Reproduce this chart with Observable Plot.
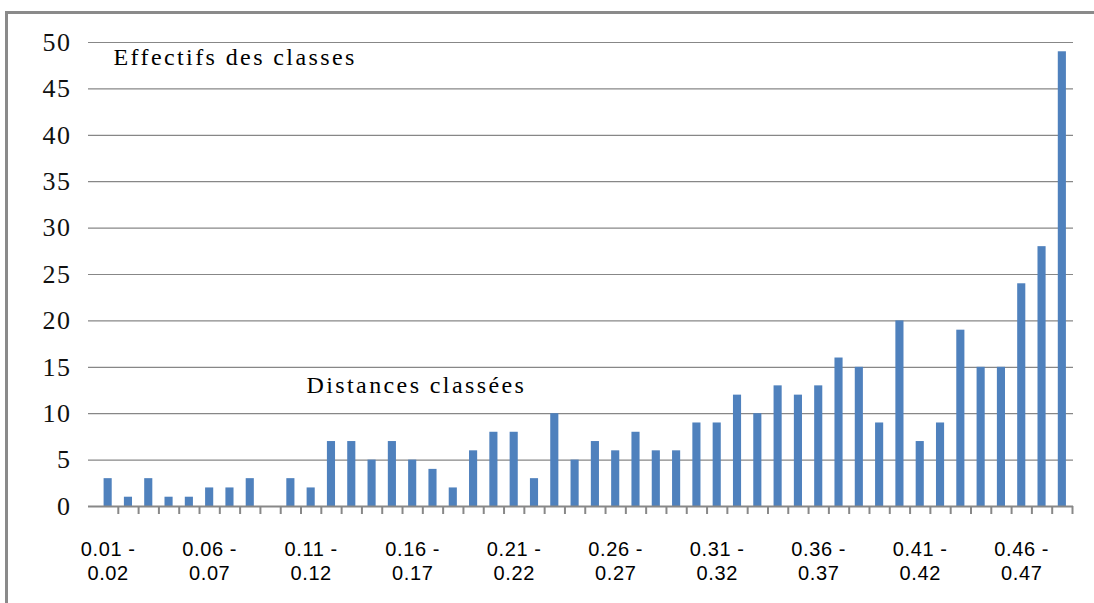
<!DOCTYPE html>
<html>
<head>
<meta charset="utf-8">
<script src="https://cdn.jsdelivr.net/npm/d3@7"></script>
<script src="https://cdn.jsdelivr.net/npm/@observablehq/plot@0.6"></script>
<style>
  html, body { margin: 0; padding: 0; background: white; overflow: hidden; }
  #wrap { position: relative; width: 1094px; height: 603px; }
  #wrap svg { position: absolute; left: 0; top: 0; }
  #border { position: absolute; left: 5px; top: 11px; width: 1300px; height: 900px;
            border: 3px solid #8a8a8a; pointer-events: none; z-index: 2; }
</style>
</head>
<body>
<div id="wrap"><div id="border"></div></div>
<script>
// Classes (distance intervals)
const categories = [
  "0.01 - 0.02","0.02 - 0.03","0.03 - 0.04","0.04 - 0.05","0.05 - 0.06",
  "0.06 - 0.07","0.07 - 0.08","0.08 - 0.09","0.09 - 0.10","0.10 - 0.11",
  "0.11 - 0.12","0.12 - 0.13","0.13 - 0.14","0.14 - 0.15","0.15 - 0.16",
  "0.16 - 0.17","0.17 - 0.18","0.18 - 0.19","0.19 - 0.20","0.20 - 0.21",
  "0.21 - 0.22","0.22 - 0.23","0.23 - 0.24","0.24 - 0.25","0.25 - 0.26",
  "0.26 - 0.27","0.27 - 0.28","0.28 - 0.29","0.29 - 0.30","0.30 - 0.31",
  "0.31 - 0.32","0.32 - 0.33","0.33 - 0.34","0.34 - 0.35","0.35 - 0.36",
  "0.36 - 0.37","0.37 - 0.38","0.38 - 0.39","0.39 - 0.40","0.40 - 0.41",
  "0.41 - 0.42","0.42 - 0.43","0.43 - 0.44","0.44 - 0.45","0.45 - 0.46",
  "0.46 - 0.47","0.47 - 0.48","0.48 - 0.49"
];
// Effectifs (counts)
const counts = [
  3, 1, 3, 1, 1,
  2, 2, 3, 0, 3,
  2, 7, 7, 5, 7,
  5, 4, 2, 6, 8,
  8, 3, 10, 5, 7,
  6, 8, 6, 6, 9,
  9, 12, 10, 13, 12,
  13, 16, 15, 9, 20,
  7, 9, 19, 15, 15,
  24, 28, 49
];
// Tick labels shown on the x axis
const xTickLabels = ["0.01 - 0.02","0.06 - 0.07","0.11 - 0.12","0.16 - 0.17","0.21 - 0.22",
                     "0.26 - 0.27","0.31 - 0.32","0.36 - 0.37","0.41 - 0.42","0.46 - 0.47"];
const yTicks = [0, 5, 10, 15, 20, 25, 30, 35, 40, 45, 50];
const yTitle = "Effectifs des classes";
const xTitle = "Distances classées";

const data = categories.map((c, i) => ({cls: c, n: counts[i]}));

const W = 1094, H = 603;
const xRange = [97.5, 1072];
const step = (xRange[1] - xRange[0]) / categories.length;
const serif = "'Liberation Serif', 'Times New Roman', serif";
const sans = "'Liberation Sans', Arial, sans-serif";

const chart = Plot.plot({
  width: W,
  height: H,
  marginLeft: 88,
  marginRight: 21,
  marginTop: 42,
  marginBottom: 97,
  style: {fontFamily: serif, color: "#000", background: "white"},
  x: {type: "band", domain: categories, range: xRange, round: false, paddingInner: 0.6, paddingOuter: 0.3, align: 0.5, axis: null, label: null},
  y: {domain: [0, 50], axis: null, label: null},
  marks: [
    Plot.ruleY(yTicks.filter(d => d > 0), {stroke: "#878787", strokeWidth: 1.2}),
    Plot.barY(data, {x: "cls", y: "n", fill: "#4f81bd"}),
    Plot.ruleY([0], {stroke: "#888888", strokeWidth: 2.2}),
    Plot.axisX({ticks: categories, tickSize: 8, dx: step / 2, stroke: "#888888", strokeWidth: 2, tickFormat: () => "", label: null}),
    // y tick labels (text mark on the y scale)
    Plot.text(yTicks, {y: d => d, text: d => String(d), frameAnchor: "left", textAnchor: "end",
      lineAnchor: "middle", dx: -17, fontSize: 26, fontFamily: serif, fill: "#111"}),
    Plot.text(xTickLabels, {
      x: d => d, text: d => d.replace(" - ", " -\n"),
      frameAnchor: "bottom", lineAnchor: "top", dy: 32, lineHeight: 1.22,
      fontSize: 20, fontFamily: sans, fill: "#000"
    }),
    Plot.text([yTitle], {text: d => d, frameAnchor: "top-left", textAnchor: "start", lineAnchor: "middle",
      dx: 25, dy: 15, fontSize: 24, fontFamily: serif, fill: "#000"}),
    Plot.text([xTitle], {text: d => d, frameAnchor: "top-left", textAnchor: "start", lineAnchor: "middle",
      dx: 218, dy: 343, fontSize: 24, fontFamily: serif, fill: "#000"})
  ]
});
// letter spacing to match the wide rendering of the original
const textGroups = chart.querySelectorAll('g[aria-label="text"]');
const spacing = ["1.5px", "0.6px", "2.4px", "2.4px"];
textGroups.forEach((g, i) => { if (spacing[i]) g.style.letterSpacing = spacing[i]; });
document.getElementById("wrap").appendChild(chart);
</script>
</body>
</html>
